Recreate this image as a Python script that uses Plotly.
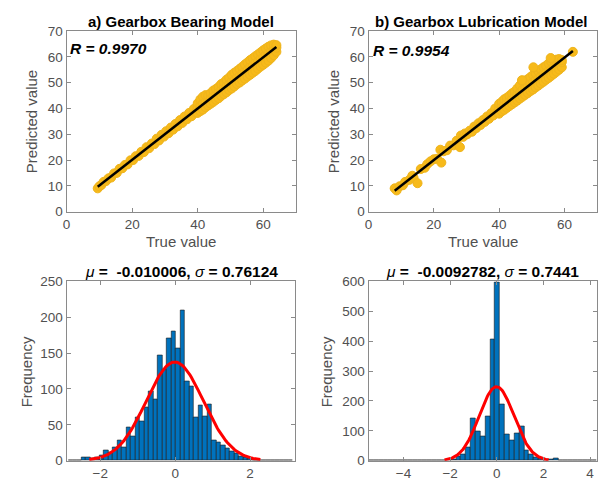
import numpy as np
import plotly.graph_objects as go

# ---------------- data ----------------
# a) Gearbox Bearing Model: true vs predicted
tl_true = [9.5, 10.0, 10.6, 11.3, 12.0, 12.8, 13.6, 14.5, 15.3, 16.2, 17.0, 17.8, 18.6, 19.5, 20.3,
           21.1, 22.0, 22.8, 23.6, 24.4, 25.2, 26.0, 26.8, 27.5, 28.2, 29.0, 29.7, 30.4, 31.1, 31.8,
           32.5, 33.2, 33.9, 34.6, 35.3, 36.0, 36.7, 37.4, 38.1, 38.8, 39.5,
           40.0, 40.0, 40.0, 40.8, 40.8, 40.8, 41.6, 41.6, 41.6, 42.4, 42.4, 42.4, 43.2, 43.2, 43.2,
           44.0, 44.0, 44.0, 44.8, 44.8, 44.8, 45.6, 45.6, 45.6, 46.4, 46.4, 46.4, 47.2, 47.2, 47.2,
           48.0, 48.0, 48.0, 48.8, 48.8, 48.8, 49.6, 49.6, 49.6, 50.4, 50.4, 50.4, 51.2, 51.2, 51.2,
           52.0, 52.0, 52.0, 52.8, 52.8, 52.8, 53.6, 53.6, 53.6, 54.4, 54.4, 54.4, 55.2, 55.2, 55.2,
           56.0, 56.0, 56.0, 56.8, 56.8, 56.8, 57.6, 57.6, 57.6, 58.4, 58.4, 58.4, 59.2, 59.2, 59.2,
           60.0, 60.0, 60.0, 60.8, 60.8, 60.8, 61.6, 61.6, 61.6, 62.4, 62.4, 62.4, 63.2, 63.2, 63.2,
           64.0, 64.0, 64.0]
tl_pred = [9.0, 9.8, 10.3, 11.5, 11.8, 12.9, 13.2, 14.8, 15.0, 16.6, 16.8, 18.1, 18.3, 19.9, 20.0,
           21.5, 21.6, 23.2, 23.1, 25.0, 24.6, 26.4, 26.2, 28.3, 27.6, 29.8, 29.1, 31.2, 30.4, 32.6,
           31.8, 34.0, 33.1, 35.5, 34.4, 36.9, 35.8, 38.3, 37.0, 39.8, 38.4,
           38.3, 40.2, 42.0, 39.0, 41.0, 43.5, 39.6, 41.9, 44.6, 40.5, 42.6, 45.2, 41.2, 43.0, 45.0,
           41.9, 44.1, 46.0, 42.6, 44.9, 47.0, 43.4, 45.5, 47.6, 44.0, 46.6, 48.4, 44.9, 47.1, 49.5,
           45.6, 48.2, 50.1, 46.3, 48.7, 51.2, 47.2, 49.5, 52.0, 47.8, 50.6, 53.1, 48.6, 51.0, 53.9,
           49.5, 52.1, 54.6, 50.1, 52.7, 55.4, 50.9, 53.8, 56.2, 51.6, 54.5, 57.1, 52.4, 55.0, 57.9,
           53.1, 56.2, 58.8, 53.9, 56.6, 59.5, 54.6, 57.8, 60.3, 55.5, 58.3, 61.0, 56.3, 59.4, 61.8,
           57.0, 59.8, 62.6, 57.8, 60.9, 63.3, 58.6, 61.5, 64.0, 59.6, 62.4, 64.5, 60.7, 63.0, 64.8,
           62.0, 63.6, 64.6]

# b) Gearbox Lubrication Model: true vs predicted
tr_true = [8.0, 8.6, 9.5, 10.5, 11.2, 12.5, 13.4, 13.8, 15.0, 16.0, 17.2, 18.0, 19.0, 20.0, 21.0,
           22.0, 22.3, 23.0, 24.0, 25.0, 26.0, 27.0, 28.0, 28.3, 29.0, 29.5, 30.2, 31.0, 31.7, 32.4,
           33.0, 33.7, 34.3, 35.0, 35.6, 36.3, 36.9, 37.6, 38.2, 38.8, 39.4,
           40.0, 40.0, 40.0, 40.8, 40.8, 40.8, 41.6, 41.6, 41.6, 42.4, 42.4, 42.4, 43.2, 43.2, 43.2,
           44.0, 44.0, 44.0, 44.8, 44.8, 44.8, 45.6, 45.6, 45.6, 46.4, 46.4, 46.4, 47.2, 47.2, 47.2,
           48.0, 48.0, 48.0, 48.8, 48.8, 48.8, 49.6, 49.6, 49.6, 50.4, 50.4, 50.4, 51.2, 51.2, 51.2,
           52.0, 52.0, 52.0, 52.8, 52.8, 52.8, 53.6, 53.6, 53.6, 54.4, 54.4, 54.4, 55.2, 55.2, 55.2,
           56.0, 56.0, 56.0, 56.8, 56.8, 56.8, 57.6, 57.6, 57.6, 58.4, 58.4, 58.4, 59.2, 59.2, 59.2,
           50.5, 55.8, 62.6, 47.0]
tr_pred = [9.0, 8.2, 9.8, 10.2, 11.5, 12.3, 13.9, 13.0, 11.0, 16.5, 17.0, 18.4, 19.5, 20.3, 20.5,
           24.0, 19.0, 23.4, 23.8, 25.6, 25.7, 27.5, 25.0, 29.5, 29.0, 30.3, 30.0, 31.4, 31.0, 33.0,
           32.4, 34.3, 33.6, 35.5, 34.8, 36.9, 36.0, 38.2, 37.3, 40.0, 38.5,
           38.0, 40.2, 41.8, 38.9, 41.0, 42.6, 39.5, 41.5, 43.6, 40.3, 42.5, 44.2, 41.0, 43.1, 45.0,
           41.7, 43.8, 45.9, 42.4, 44.9, 46.6, 43.1, 45.4, 47.8, 43.9, 46.2, 49.0, 44.6, 47.3, 50.5,
           45.3, 47.7, 50.9, 46.0, 48.6, 51.4, 46.8, 49.5, 52.2, 47.4, 50.3, 53.0, 48.2, 51.1, 53.6,
           48.9, 51.6, 54.5, 49.7, 52.5, 55.2, 50.4, 53.3, 56.0, 51.2, 53.8, 56.6, 51.9, 54.7, 57.5,
           52.7, 55.3, 58.1, 53.5, 56.2, 58.6, 54.3, 56.8, 59.0, 55.1, 57.5, 59.2, 56.0, 58.0, 58.8,
           56.0, 59.6, 62.0, 51.0]

# residual histogram, bearing model
bl_counts = [0, 1, 1, 4, 4, 3, 4, 7, 14, 11, 18, 29, 19, 47, 34, 60, 55, 74, 97, 86,
             147, 128, 171, 181, 156, 210, 110, 104, 60, 77, 62, 79, 28, 26, 22, 17, 13, 10, 6, 4,
             3, 1, 0, 0, 1, 0, 1, 0, 1, 1]
bl_first_edge = -2.86
bl_bin_width = 0.12
bl_mu = -0.010006
bl_sigma = 0.76124

# residual histogram, lubrication model
br_counts = [0, 0, 0, 0, 0, 0, 1, 0, 0, 0, 1, 2, 0, 1, 1, 2, 3, 6, 14, 22,
             45, 140, 97, 81, 147, 405, 597, 189, 88, 68, 92, 116, 35, 20, 12, 8, 6, 5, 7, 1,
             1, 1, 0, 0, 0, 0, 0]
br_first_edge = -5.5
br_bin_width = 0.2085
br_mu = -0.0092782
br_sigma = 0.7441

# ---------------- figure ----------------
W, H = 602, 490
FONT = "Liberation Sans, Arial, Helvetica, sans-serif"
SCAT_EDGE = "#EFB41C"
SCAT_FILL = "#F7BA1A"
BAR = "#0072BD"
GRAY = "#505050"


def px(x):
    return x / W


def py(y):
    return 1 - y / H


fig = go.Figure()

for xs, ys, xa, ya in [(tl_true, tl_pred, "x", "y"), (tr_true, tr_pred, "x2", "y2")]:
    fig.add_trace(go.Scatter(x=xs, y=ys, mode="markers", xaxis=xa, yaxis=ya,
                             marker=dict(symbol="circle", size=9, color=SCAT_FILL,
                                         line=dict(color=SCAT_EDGE, width=1)),
                             showlegend=False, hoverinfo="skip"))
    a, b = np.polyfit(xs, ys, 1)
    lx = np.array([min(xs), max(xs)])
    fig.add_trace(go.Scatter(x=lx, y=a * lx + b, mode="lines", xaxis=xa, yaxis=ya,
                             line=dict(color="black", width=2.5), showlegend=False))

for counts, e0, bw, mu, sg, xa, ya in [
        (bl_counts, bl_first_edge, bl_bin_width, bl_mu, bl_sigma, "x3", "y3"),
        (br_counts, br_first_edge, br_bin_width, br_mu, br_sigma, "x4", "y4")]:
    centers = e0 + bw * (np.arange(len(counts)) + 0.5)
    fig.add_trace(go.Bar(x=centers, y=counts, width=bw, xaxis=xa, yaxis=ya,
                         marker=dict(color=BAR, line=dict(color="#1a1a1a", width=0.6)),
                         showlegend=False))
    n = sum(counts)
    cx = np.linspace(mu - 3 * sg, mu + 3 * sg, 120)
    cy = n * bw * np.exp(-0.5 * ((cx - mu) / sg) ** 2) / (sg * np.sqrt(2 * np.pi))
    fig.add_trace(go.Scatter(x=cx, y=cy, mode="lines", xaxis=xa, yaxis=ya,
                             line=dict(color="#FF0000", width=3), showlegend=False))

axc = dict(showline=True, linecolor="#8a8a8a", linewidth=1, mirror="ticks", ticks="inside",
           ticklen=4, tickcolor="#8a8a8a", showgrid=False, zeroline=False,
           tickfont=dict(family=FONT, size=13.5, color=GRAY), fixedrange=True)

top_y = [py(211), py(25)]
bot_y = [py(468), py(283)]
fig.update_layout(
    width=W, height=H, margin=dict(l=0, r=0, t=0, b=0),
    paper_bgcolor="white", plot_bgcolor="white", bargap=0,
    font=dict(family=FONT),
    xaxis=dict(axc, domain=[px(63), px(294)], anchor="y", range=[0, 70], tickvals=[0, 20, 40, 60]),
    yaxis=dict(axc, domain=top_y, anchor="x", range=[0, 70], dtick=10),
    xaxis2=dict(axc, domain=[px(367), px(597)], anchor="y2", range=[0, 70], tickvals=[0, 20, 40, 60]),
    yaxis2=dict(axc, domain=top_y, anchor="x2", range=[0, 70], dtick=10),
    xaxis3=dict(axc, domain=[px(63), px(293)], anchor="y3", range=[-2.9, 3.2], tickvals=[-2, 0, 2]),
    yaxis3=dict(axc, domain=bot_y, anchor="x3", range=[0, 250], dtick=50),
    xaxis4=dict(axc, domain=[px(367), px(597)], anchor="y4", range=[-5.5, 4.3], tickvals=[-4, -2, 0, 2, 4]),
    yaxis4=dict(axc, domain=bot_y, anchor="x4", range=[0, 600], dtick=100),
)

ann = []


def add_text(text, x, y, size, color="#000000", angle=0, xanchor="center"):
    ann.append(dict(text=text, x=px(x), y=py(y), xref="paper", yref="paper", showarrow=False,
                    xanchor=xanchor, yanchor="middle", textangle=angle,
                    font=dict(family=FONT, size=size, color=color)))


add_text("<b>a) Gearbox Bearing Model</b>", 178, 15, 15)
add_text("<b>b) Gearbox Lubrication Model</b>", 481, 15, 15)
add_text("<b><i>R = 0.9970</i></b>", 64, 43, 15.5, xanchor="left")
add_text("<b><i>R = 0.9954</i></b>", 369, 45, 15.5, xanchor="left")
add_text("True value", 178, 242, 15, color=GRAY)
add_text("True value", 482, 242, 15, color=GRAY)
add_text("Predicted value", 28, 118, 15, color=GRAY, angle=-90)
add_text("Predicted value", 332, 118, 15, color=GRAY, angle=-90)
add_text("Frequency", 23, 376, 15, color=GRAY, angle=-90)
add_text("Frequency", 325, 376, 15, color=GRAY, angle=-90)
add_text("<i>μ</i><b> =  -0.010006, </b><i>σ</i><b> = 0.76124</b>", 179, 273, 15.5)
add_text("<i>μ</i><b> =  -0.0092782, </b><i>σ</i><b> = 0.7441</b>", 482, 273, 15.5)

fig.update_layout(annotations=ann)
fig.write_html("out.html")
